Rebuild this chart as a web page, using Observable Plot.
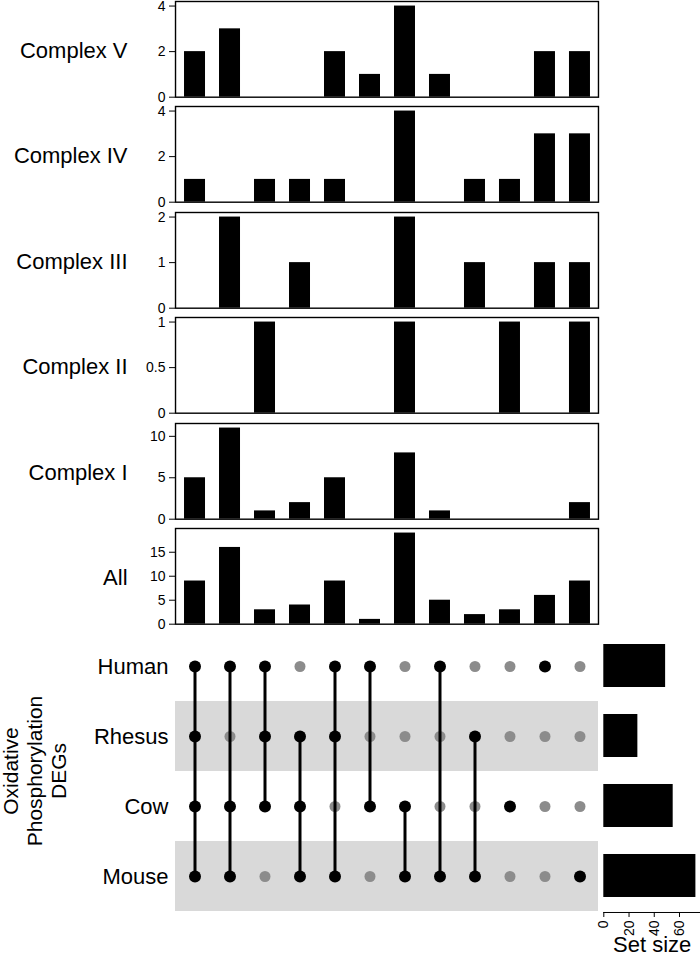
<!DOCTYPE html>
<html><head><meta charset="utf-8">
<script src="https://cdn.jsdelivr.net/npm/d3@7"></script>
<script src="https://cdn.jsdelivr.net/npm/@observablehq/plot@0.6"></script>
<style>
body{margin:0;background:#fff;}
#chart{position:relative;width:700px;height:957px;overflow:hidden;font-family:"Liberation Sans",Arial,sans-serif;}
#chart svg{position:absolute;}
</style></head><body><div id="chart"></div>
<script>
// ---- data ----
const sets = ["Human", "Rhesus", "Cow", "Mouse"];
const setSizes = [49, 27, 55, 73];
const combos = [
  ["Human", "Rhesus", "Cow", "Mouse"],
  ["Human", "Cow", "Mouse"],
  ["Human", "Rhesus", "Cow"],
  ["Rhesus", "Cow", "Mouse"],
  ["Human", "Rhesus", "Mouse"],
  ["Human", "Cow"],
  ["Cow", "Mouse"],
  ["Human", "Mouse"],
  ["Rhesus", "Mouse"],
  ["Cow"],
  ["Human"],
  ["Mouse"]
];
const complexV   = [2, 3, 0, 0, 2, 1, 4, 1, 0, 0, 2, 2];
const complexIV  = [1, 0, 1, 1, 1, 0, 4, 0, 1, 1, 3, 3];
const complexIII = [0, 2, 0, 1, 0, 0, 2, 0, 1, 0, 1, 1];
const complexII  = [0, 0, 1, 0, 0, 0, 1, 0, 0, 1, 0, 1];
const complexI   = [5, 11, 1, 2, 5, 0, 8, 1, 0, 0, 0, 2];
const allDEGs    = [9, 16, 3, 4, 9, 1, 19, 5, 2, 3, 6, 9];
const panelNames = ["Complex V", "Complex IV", "Complex III", "Complex II", "Complex I", "All"];
const panelTicks = [[0, 2, 4], [0, 2, 4], [0, 1, 2], [0, 0.5, 1], [0, 5, 10], [0, 5, 10, 15]];
const setSizeTicks = [0, 20, 40, 60];
const yTitle = "Oxidative\nPhosphorylation\nDEGs";
const sizeTitle = "Set size";

// ---- layout ----
const FONT = "Liberation Sans, Arial, sans-serif";
const fmt = d3.format("~g");
const chart = document.getElementById("chart");
function place(svg, left, top) {
  svg.style.left = left + "px";
  svg.style.top = top + "px";
  chart.appendChild(svg);
}
const comboIds = combos.map(c => c.join("&"));
const panelValues = [complexV, complexIV, complexIII, complexII, complexI, allDEGs];
const xBand = {type: "band", domain: comboIds, paddingInner: 0.4, paddingOuter: 0.2, axis: null};
const baseStyle = {background: "transparent", overflow: "visible", fontFamily: FONT, color: "black"};

const panelTop0 = 0.7, panelStep = 105.5, panelH = 95.7, pm = 10;
panelValues.forEach((vals, i) => {
  const table = comboIds.map((id, j) => ({combo: id, count: vals[j]}));
  const svg = Plot.plot({
    width: 700, height: panelH + 2 * pm,
    marginTop: pm, marginBottom: pm, marginLeft: 175, marginRight: 102,
    style: {...baseStyle, fontSize: "14px"},
    x: xBand,
    y: {domain: [0, d3.max(vals) * 1.05], ticks: panelTicks[i], tickFormat: fmt, tickSize: 6, tickPadding: 4, label: null},
    marks: [
      Plot.barY(table, {x: "combo", y: "count", fill: "black", inset: 0}),
      Plot.frame({stroke: "black", strokeWidth: 1.4}),
      Plot.text([panelNames[i]], {text: d => d, frameAnchor: "left", dx: -48, dy: 2, textAnchor: "end", fontSize: 22})
    ]
  });
  place(svg, 0, panelTop0 + i * panelStep - pm);
});

// matrix
const matrix = [];
combos.forEach((c, j) => sets.forEach(s => matrix.push({combo: comboIds[j], set: s, member: c.includes(s)})));
const links = combos.filter(c => c.length > 1).map(c => ({combo: c.join("&"), from: c[0], to: c[c.length - 1]}));
const stripes = sets.filter((s, i) => i % 2 === 1);
const mTop = 629.3, mH = 283;
const mSvg = Plot.plot({
  width: 600, height: mH + 2 * pm,
  marginTop: pm, marginBottom: pm, marginLeft: 175, marginRight: 2,
  style: {...baseStyle, fontSize: "22px"},
  x: xBand,
  y: {type: "band", domain: sets, padding: 0, tickSize: 0, tickPadding: 7, label: null},
  marks: [
    Plot.cell(stripes, {y: d => d, fill: "#d9d9d9"}),
    Plot.dot(matrix.filter(d => !d.member), {x: "combo", y: "set", r: 5.5, fill: "#8c8c8c"}),
    Plot.link(links, {x1: "combo", x2: "combo", y1: "from", y2: "to", stroke: "black", strokeWidth: 3}),
    Plot.dot(matrix.filter(d => d.member), {x: "combo", y: "set", r: 6, fill: "black"}),
    Plot.text([yTitle], {text: d => d, frameAnchor: "left", dx: -141, rotate: -90, textAnchor: "middle", lineAnchor: "middle", fontSize: 21, lineHeight: 1.15})
  ]
});
place(mSvg, 0, mTop - pm);

// set sizes
const sizeTable = sets.map((s, i) => ({set: s, size: setSizes[i]}));
const sH = 957 - (mTop - pm);
const sSvg = Plot.plot({
  width: 100, height: sH,
  marginTop: pm, marginBottom: sH - pm - mH, marginLeft: 3.3, marginRight: 0,
  style: {...baseStyle, fontSize: "14px"},
  x: {domain: [0, d3.max(setSizes) * 1.05], ticks: setSizeTicks, tickFormat: fmt, tickRotate: -90, tickSize: 5, tickPadding: 3, line: true, label: null},
  y: {type: "band", domain: sets, paddingInner: 0.38, paddingOuter: 0.19, axis: null},
  marks: [
    Plot.barX(sizeTable, {x: "size", y: "set", fill: "black", inset: 0}),
    Plot.text([sizeTitle], {text: d => d, frameAnchor: "bottom", lineAnchor: "middle", dy: 32, fontSize: 22})
  ]
});
place(sSvg, 600, mTop - pm);
</script>
</body></html>
